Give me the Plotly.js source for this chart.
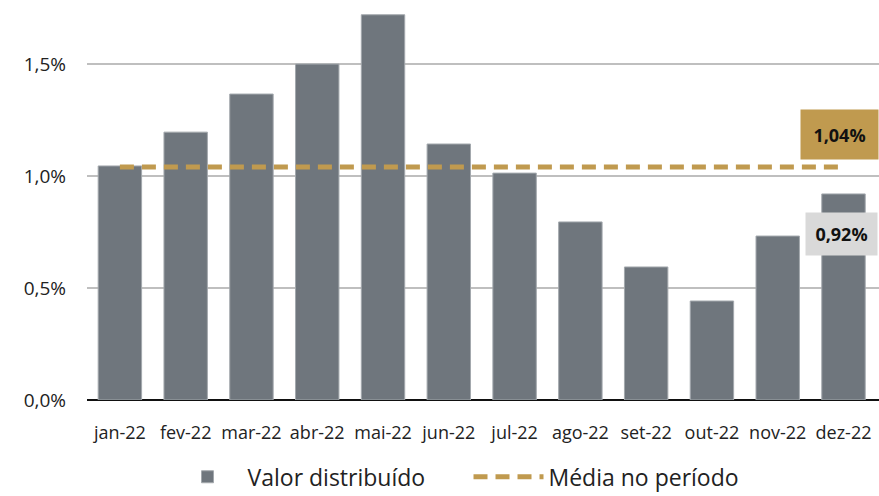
<!DOCTYPE html>
<html>
<head>
<meta charset="utf-8">
<script src="https://cdn.plot.ly/plotly-3.0.1.min.js"></script>
<style>html,body{margin:0;padding:0;background:#fff;}#chart{width:879px;height:496px;}</style>
</head>
<body>
<div id="chart"></div>
<script>
const months = ['jan-22','fev-22','mar-22','abr-22','mai-22','jun-22','jul-22','ago-22','set-22','out-22','nov-22','dez-22'];
const valorDistribuido = [1.045, 1.196, 1.366, 1.50, 1.72, 1.143, 1.013, 0.795, 0.594, 0.442, 0.732, 0.92];
const media = 1.04;
const mediaSeries = months.map(() => media);
const yTickVals = [0, 0.5, 1.0, 1.5];
const yTickText = ['0,0%', '0,5%', '1,0%', '1,5%'];
const labelMedia = '1,04%';
const labelUltimo = '0,92%';

const FONT = 'Open Sans, Noto Sans, sans-serif';

const traces = [
  {
    type: 'bar', x: months, y: valorDistribuido, name: 'Valor distribuído',
    marker: {color: '#6f767d', line: {color: '#a3a8ad', width: 1}},
    width: 0.66, hoverinfo: 'skip'
  },
  {
    type: 'scatter', mode: 'lines', x: months, y: mediaSeries, name: 'Média no período',
    line: {color: '#c09a4f', width: 5, dash: '14px,8px'}, hoverinfo: 'skip'
  }
];

const layout = {
  width: 879, height: 496,
  margin: {l: 87, r: 0, t: 0, b: 96, autoexpand: false},
  paper_bgcolor: '#fff', plot_bgcolor: '#fff',
  font: {family: FONT, color: '#222'},
  showlegend: true,
  legend: {orientation: 'h', x: 0.533, xanchor: 'center', xref: 'container',
           y: -0.192, yanchor: 'middle', yref: 'paper', bgcolor: 'rgba(0,0,0,0)',
           font: {size: 23, color: '#222'}, itemwidth: 70, entrywidth: 216, traceorder: 'normal'},
  xaxis: {type: 'category', showgrid: false, showline: false, ticks: '',
          tickfont: {size: 18, color: '#222'}, ticklabelstandoff: 20, fixedrange: true, automargin: false},
  yaxis: {range: [0, 1.786], tickvals: yTickVals, ticktext: yTickText,
          showgrid: true, gridcolor: '#bfbfbf', gridwidth: 1.5,
          zeroline: true, zerolinecolor: '#111', zerolinewidth: 2.5,
          showline: false, ticks: '', ticklen: 0, ticklabelstandoff: 20,
          tickfont: {size: 19, color: '#222'}, fixedrange: true, automargin: false},
  annotations: [
    {xref: 'x', yref: 'y', x: months[11], y: media, yshift: 33, xshift: -4,
     text: '<b>' + labelMedia + '</b>', showarrow: false,
     bgcolor: '#c09a4f', width: 65, height: 37, borderpad: 6,
     font: {size: 18, color: '#111', family: FONT}},
    {xref: 'x', yref: 'y', x: months[11], y: valorDistribuido[11], yshift: -40, xshift: -2,
     text: '<b>' + labelUltimo + '</b>', showarrow: false,
     bgcolor: '#d9d9d9', width: 59, height: 30, borderpad: 6,
     font: {size: 18, color: '#111', family: FONT}}
  ]
};

Plotly.newPlot('chart', traces, layout, {displayModeBar: false, staticPlot: true});
</script>
</body>
</html>
